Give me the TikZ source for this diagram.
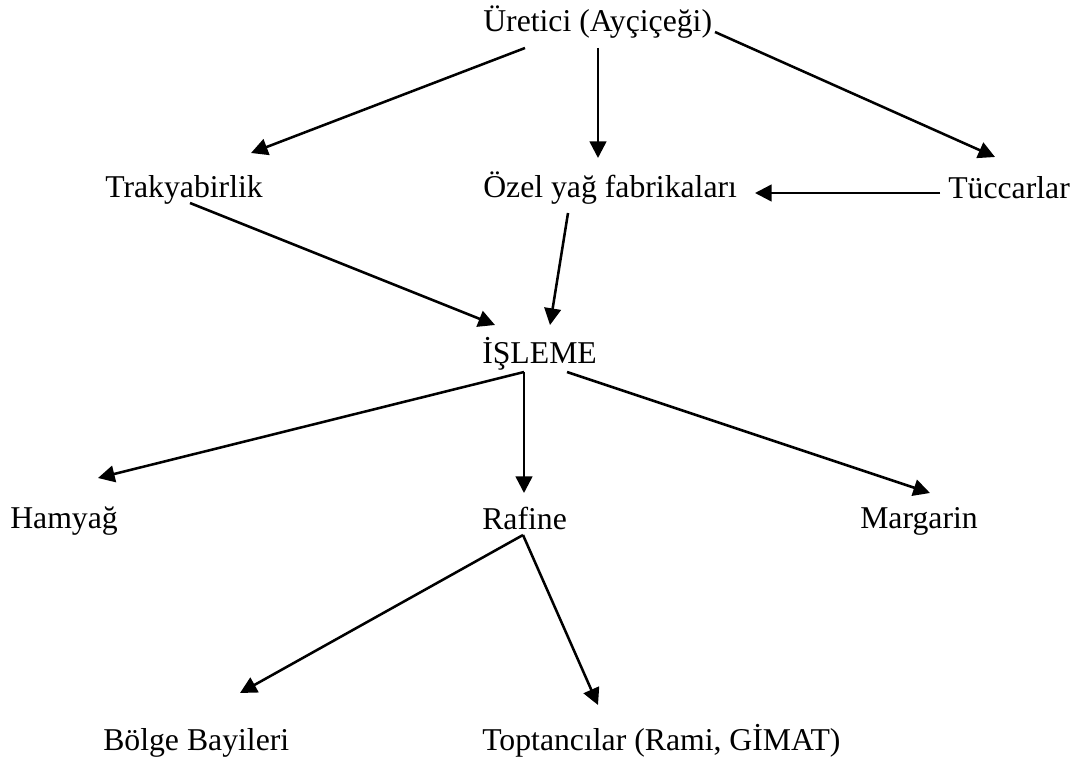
\documentclass[tikz,border=0pt]{standalone}
\usepackage{fontspec}
\setmainfont{Liberation Serif}
\usetikzlibrary{arrows.meta, positioning}

\begin{document}
\begin{tikzpicture}[
        x=0.75pt, y=-0.75pt,
        >={Triangle[length=12.5pt, width=12.5pt]},
        every node/.style={inner sep=0pt, anchor=base west, font=\fontsize{23.8}{28}\selectfont},
        flow/.style={->, line width=1.9pt}
    ]
        \useasboundingbox (0,0) rectangle (1081,763);

        % satirlar
        \node (uretici)  at (483,32)  {Üretici (Ayçiçeği)};
        \node (trakya)   at (105,198) {Trakyabirlik};
        \node (ozel)     at (483,198) {Özel yağ fabrikaları};
        \node (tuccar)   at (948,199) {Tüccarlar};
        \node (isleme)   at (482,363) {İŞLEME};
        \node (hamyag)   at (10,528)  {Hamyağ};
        \node (rafine)   at (482,529) {Rafine};
        \node (margarin) at (860,528) {Margarin};
        \node (bolge)    at (103,750) {Bölge Bayileri};
        \node (toptan)   at (482,750) {Toptancılar (Rami, GİMAT)};

        % uretici -> alicilar
        \draw[flow] ([shift={(42,16)}]uretici.base west) -- ([shift={(146,-45)}]trakya.base west);
        \draw[flow] ([shift={(115,16)}]uretici.base west) -- ([shift={(115,-40)}]ozel.base west);
        \draw[flow] ([shift={(232,0)}]uretici.base west) -- ([shift={(47,-42)}]tuccar.base west);
        \draw[flow] ([shift={(-8,-6)}]tuccar.base west) -- ([shift={(272,-5)}]ozel.base west);

        % isleme
        \draw[flow] ([shift={(85,5)}]trakya.base west) -- ([shift={(13,-38)}]isleme.base west);
        \draw[flow] ([shift={(85,15)}]ozel.base west) -- ([shift={(68,-38)}]isleme.base west);

        % urunler
        \draw[flow] ([shift={(42,9)}]isleme.base west) -- ([shift={(88,-50)}]hamyag.base west);
        \draw[flow] ([shift={(42,9)}]isleme.base west) -- ([shift={(42,-36)}]rafine.base west);
        \draw[flow] ([shift={(85,9)}]isleme.base west) -- ([shift={(70,-35)}]margarin.base west);

        % dagitim
        \draw[flow] ([shift={(41,6)}]rafine.base west) -- ([shift={(137,-57)}]bolge.base west);
        \draw[flow] ([shift={(41,6)}]rafine.base west) -- ([shift={(116,-45)}]toptan.base west);
    \end{tikzpicture}
\end{document}
